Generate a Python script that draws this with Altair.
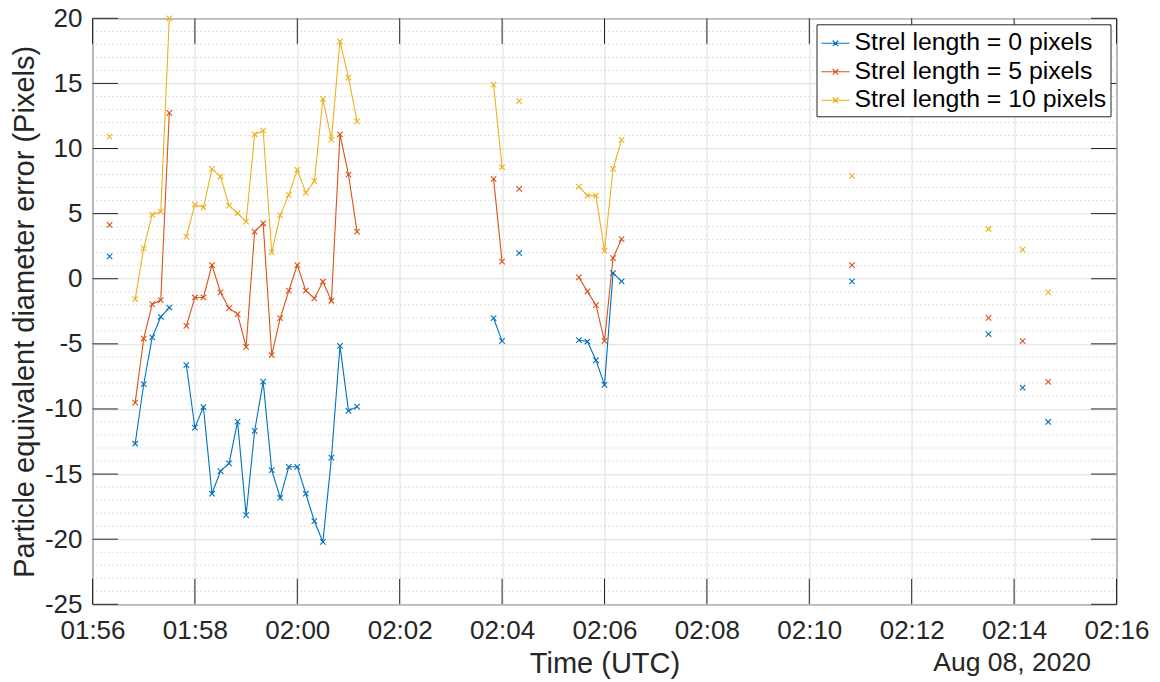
import altair as alt
import pandas as pd

# ---- data -------------------------------------------------------------
DATE = "2020-08-08"
date_label = "Aug 08, 2020"

times = [
    "01:56:20",
    "01:56:50", "01:57:00", "01:57:10", "01:57:20", "01:57:30",
    "01:57:50", "01:58:00", "01:58:10", "01:58:20", "01:58:30", "01:58:40",
    "01:58:50", "01:59:00", "01:59:10", "01:59:20", "01:59:30", "01:59:40",
    "01:59:50", "02:00:00", "02:00:10", "02:00:20", "02:00:30", "02:00:40",
    "02:00:50", "02:01:00", "02:01:10",
    "02:03:50", "02:04:00",
    "02:04:20",
    "02:05:30", "02:05:40", "02:05:50", "02:06:00", "02:06:10", "02:06:20",
    "02:10:50",
    "02:13:30",
    "02:14:10",
    "02:14:40",
]

err_strel0 = [
    1.72,
    -12.67, -8.10, -4.51, -2.92, -2.21,
    -6.64, -11.44, -9.85, -16.51, -14.77, -14.18, -10.97, -18.15, -11.69,
    -7.90, -14.69, -16.82, -14.44, -14.44, -16.51, -18.62, -20.21, -13.74,
    -5.15, -10.15, -9.82,
    -3.03, -4.77,
    1.97,
    -4.72, -4.82, -6.26, -8.15, 0.44, -0.20,
    -0.20,
    -4.26,
    -8.36,
    -11.00,
]

err_strel5 = [
    4.13,
    -9.51, -4.59, -1.95, -1.64, 12.74,
    -3.62, -1.44, -1.44, 1.05, -1.05, -2.26, -2.72, -5.23, 3.62,
    4.26, -5.87, -3.03, -0.92, 1.05, -0.92, -1.51, -0.23, -1.69,
    11.08, 8.00, 3.62,
    7.67, 1.31,
    6.90,
    0.10, -0.97, -2.03, -4.77, 1.59, 3.05,
    1.05,
    -3.00,
    -4.79,
    -7.92,
]

err_strel10 = [
    10.92,
    -1.56, 2.33, 4.92, 5.15, 20.00,
    3.23, 5.69, 5.49, 8.44, 7.85, 5.62, 5.03, 4.38, 11.08,
    11.38, 2.03, 4.87, 6.44, 8.36, 6.59, 7.49, 13.82, 10.69,
    18.23, 15.44, 12.08,
    14.90, 8.56,
    13.64,
    7.08, 6.38, 6.38, 2.15, 8.44, 10.67,
    7.90,
    3.82,
    2.23,
    -1.05,
]

series_names = [
    "Strel length = 0 pixels",
    "Strel length = 5 pixels",
    "Strel length = 10 pixels",
]
series_colors = ["#0072BD", "#D95319", "#EDB120"]

x_tick_labels = ["01:56", "01:58", "02:00", "02:02", "02:04", "02:06",
                 "02:08", "02:10", "02:12", "02:14", "02:16"]
y_ticks = [-25, -20, -15, -10, -5, 0, 5, 10, 15, 20]
y_minor = [v for v in range(-24, 20) if v % 5 != 0]

# ---- styling ------------------------------------------------------------
W, H = 1024, 586
FONT = "Liberation Sans"
AX = "#262626"
TICK_LEN = 25.5
X_MARK = "M-1,-1L1,1M-1,1L1,-1"
LEGEND_SYMBOL = "M-1,0L1,0M-0.2,-0.2L0.2,0.2M-0.2,0.2L0.2,-0.2"


def stamp(hms):
    return f"{DATE}T{hms}Z"


def seconds(hms):
    h, m, s = (int(p) for p in hms.split(":"))
    return h * 3600 + m * 60 + s


# long table; a new segment starts wherever samples are more than 10 s apart
rows = []
for name, vals in zip(series_names, [err_strel0, err_strel5, err_strel10]):
    seg, prev = 0, None
    for t, v in zip(times, vals):
        s = seconds(t)
        if prev is not None and s - prev > 10:
            seg += 1
        prev = s
        rows.append({"time": stamp(t), "value": v, "series": name, "seg": seg})
df = pd.DataFrame(rows)


def dt(label):
    h, m = (int(p) for p in label.split(":"))
    return alt.DateTime(year=2020, month=8, date=8, hours=h, minutes=m, utc=True)


x_scale = alt.Scale(type="utc", domain=[dt(x_tick_labels[0]), dt(x_tick_labels[-1])])
y_scale = alt.Scale(domain=[-25, 20], nice=False, zero=False)

x_enc = alt.X(
    "time:T",
    scale=x_scale,
    axis=alt.Axis(
        values=[dt(l) for l in x_tick_labels],
        format="%H:%M",
        title="Time (UTC)",
        labelFontSize=26,
        labelBaseline="alphabetic",
        labelPadding=34,
        labelFlush=False,
        labelOverlap=False,
        titleFontSize=29,
        titleBaseline="alphabetic",
        titleY=68,
    ),
)
y_enc = alt.Y(
    "value:Q",
    scale=y_scale,
    axis=alt.Axis(
        values=y_ticks,
        labelExpr="'' + datum.value",
        title="Particle equivalent diameter error (Pixels)",
        labelFontSize=26,
        labelPadding=10.5,
        labelBaseline="middle",
        titleFontSize=29,
        titleAngle=270,
        titleBaseline="alphabetic",
        titleAlign="center",
        titleX=-59.5,
        titleY=H / 2,
    ),
)

color_enc = alt.Color(
    "series:N",
    sort=series_names,
    scale=alt.Scale(domain=series_names, range=series_colors),
    legend=alt.Legend(
        title=None,
        orient="top-right",
        offset=6,
        padding=4,
        symbolType=LEGEND_SYMBOL,
        symbolSize=784,
        symbolStrokeWidth=1.1,
        symbolFillColor="transparent",
        labelFont=FONT,
        labelFontSize=24.8,
        labelColor="black",
        labelOffset=4,
        labelLimit=500,
        rowPadding=1.5,
        strokeColor=AX,
        fillColor="white",
        cornerRadius=0,
    ),
)

# dotted minor grid on y
minor = alt.Chart(pd.DataFrame({"value": y_minor})).mark_rule(
    color="#b8b8b8", strokeWidth=0.9, strokeDash=[1, 3]
).encode(y="value:Q", x=alt.value(0), x2=alt.value(W))

lines = alt.Chart(df).mark_line(strokeWidth=1.1, clip=True).encode(
    x=x_enc, y=y_enc, color=color_enc, detail="seg:N"
)

points = alt.Chart(df).mark_point(
    shape=X_MARK, filled=False, size=30, strokeWidth=1.1, opacity=1
).encode(
    x="time:T", y="value:Q", color=alt.Color("series:N", legend=None)
)

# inward ticks on all four sides of the box
xt = pd.DataFrame({"time": [stamp(l + ":00") for l in x_tick_labels]})
yt = pd.DataFrame({"value": y_ticks})
tick_style = dict(color=AX, strokeWidth=1)
bottom_ticks = alt.Chart(xt).mark_rule(**tick_style).encode(
    x="time:T", y=alt.value(H), y2=alt.value(H - TICK_LEN)
)
top_ticks = alt.Chart(xt).mark_rule(**tick_style).encode(
    x="time:T", y=alt.value(0), y2=alt.value(TICK_LEN)
)
left_ticks = alt.Chart(yt).mark_rule(**tick_style).encode(
    y="value:Q", x=alt.value(0), x2=alt.value(TICK_LEN)
)
right_ticks = alt.Chart(yt).mark_rule(**tick_style).encode(
    y="value:Q", x=alt.value(W), x2=alt.value(W - TICK_LEN)
)

date_text = alt.Chart(pd.DataFrame({"label": [date_label]})).mark_text(
    align="right", baseline="alphabetic", font=FONT, fontSize=26.5, color=AX
).encode(text="label:N", x=alt.value(W - 25.5), y=alt.value(H + 67))

chart = (
    alt.layer(minor, lines, points, bottom_ticks, top_ticks, left_ticks,
              right_ticks, date_text)
    .properties(
        width=W,
        height=H,
        autosize=alt.AutoSizeParams(type="none"),
        padding={"left": 92.5, "top": 18.3, "right": 1160 - 92.5 - W,
                 "bottom": 682 - 18.3 - H},
        background="white",
    )
    .configure_view(stroke=AX, strokeWidth=1)
    .configure_axis(
        domain=False,
        ticks=False,
        tickSize=0,
        grid=True,
        gridColor="#dedede",
        gridWidth=1,
        labelFont=FONT,
        titleFont=FONT,
        labelColor=AX,
        titleColor=AX,
        titleFontWeight="normal",
    )
)

chart.save("out.html", embed_options={"renderer": "svg", "actions": False})
